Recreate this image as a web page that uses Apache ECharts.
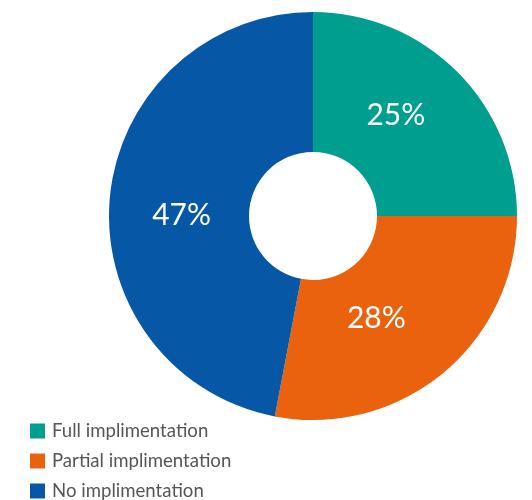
<!DOCTYPE html>
<html>
<head>
<meta charset="utf-8">
<script src="https://cdn.jsdelivr.net/npm/echarts@6/dist/echarts.min.js"></script>
<style>
  html, body { margin: 0; padding: 0; background: #ffffff; }
  #chart { width: 532px; height: 500px; }
</style>
</head>
<body>
<div id="chart"></div>
<script>
// Implementation status shares (percent)
const categories = ['Full implimentation', 'Partial implimentation', 'No implimentation'];
const shares = [25, 28, 47];
const colors = ['#009E8F', '#EA620E', '#0658A7'];

// small per-slice label nudges (px) so the percentages sit a bit inward
const labelNudge = [[-14, -4], [-24, -3], [5, 12]];

const chart = echarts.init(document.getElementById('chart'), null, { renderer: 'canvas' });

chart.setOption({
  animation: false,
  color: colors,
  legend: {
    orient: 'vertical',
    left: 30,
    top: 421.5,
    height: 120,
    padding: 0,
    itemWidth: 15,
    itemHeight: 15,
    itemGap: 11,
    icon: 'rect',
    selectedMode: false,
    textStyle: { fontFamily: 'Lato', fontSize: 18.6, lineHeight: 18, color: '#555555', padding: [0, 0, 0, 2] },
    data: categories
  },
  series: [{
    type: 'pie',
    center: [313, 216],
    radius: [64, 204],
    startAngle: 90,
    clockwise: true,
    avoidLabelOverlap: false,
    itemStyle: { borderWidth: 0 },
    label: {
      show: true,
      position: 'inside',
      formatter: p => p.value + '%',
      color: '#ffffff',
      fontFamily: 'Lato',
      fontSize: 30,
      fontWeight: 400
    },
    labelLayout: p => ({ dx: labelNudge[p.dataIndex][0], dy: labelNudge[p.dataIndex][1] }),
    labelLine: { show: false },
    emphasis: { disabled: true },
    data: categories.map((name, i) => ({ name, value: shares[i] }))
  }]
});
</script>
</body>
</html>
